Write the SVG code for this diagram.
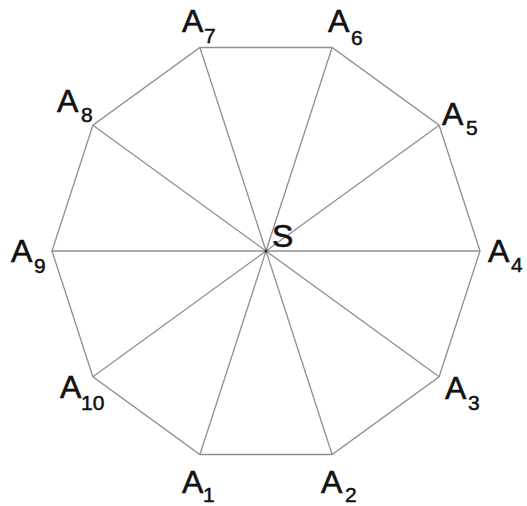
<svg xmlns="http://www.w3.org/2000/svg" width="527" height="506" viewBox="0 0 527 506">
<style>
.e{stroke:#8f8f8f;stroke-width:1.3;fill:none}
.l{font-family:"Liberation Sans",Arial,sans-serif;font-size:32px;fill:#111;stroke:#111;stroke-width:0.6}
.s{font-family:"Liberation Sans",Arial,sans-serif;font-size:21px;fill:#111;stroke:#111;stroke-width:0.5}
</style>
<rect width="527" height="506" fill="#fff"/>
<g id="connectors">
<polygon class="e" points="480,251 439.1,125.2 332.1,47.5 199.9,47.5 92.9,125.2 52,251 92.9,376.8 199.9,454.5 332.1,454.5 439.1,376.8"/>
<line class="e" x1="266" y1="251" x2="480" y2="251"/>
<line class="e" x1="266" y1="251" x2="439.1" y2="125.2"/>
<line class="e" x1="266" y1="251" x2="332.1" y2="47.5"/>
<line class="e" x1="266" y1="251" x2="199.9" y2="47.5"/>
<line class="e" x1="266" y1="251" x2="92.9" y2="125.2"/>
<line class="e" x1="266" y1="251" x2="52" y2="251"/>
<line class="e" x1="266" y1="251" x2="92.9" y2="376.8"/>
<line class="e" x1="266" y1="251" x2="199.9" y2="454.5"/>
<line class="e" x1="266" y1="251" x2="332.1" y2="454.5"/>
<line class="e" x1="266" y1="251" x2="439.1" y2="376.8"/>
</g>
<g id="S"><circle cx="266" cy="251" r="1.6" fill="#333"/><text class="l" x="272" y="247">S</text></g>
<g id="A1"><text class="l" x="182" y="493">A</text><text class="s" x="203" y="502">1</text></g>
<g id="A2"><text class="l" x="321" y="493">A</text><text class="s" x="345" y="502">2</text></g>
<g id="A3"><text class="l" x="445" y="399">A</text><text class="s" x="468" y="410">3</text></g>
<g id="A4"><text class="l" x="488" y="262">A</text><text class="s" x="511" y="272">4</text></g>
<g id="A5"><text class="l" x="442" y="125">A</text><text class="s" x="466" y="135">5</text></g>
<g id="A6"><text class="l" x="328" y="32">A</text><text class="s" x="351" y="45">6</text></g>
<g id="A7"><text class="l" x="182" y="32">A</text><text class="s" x="204" y="43">7</text></g>
<g id="A8"><text class="l" x="57" y="112">A</text><text class="s" x="81" y="122">8</text></g>
<g id="A9"><text class="l" x="11" y="262">A</text><text class="s" x="34" y="273">9</text></g>
<g id="A10"><text class="l" x="60" y="398">A</text><text class="s" x="81" y="410">10</text></g>
</svg>
